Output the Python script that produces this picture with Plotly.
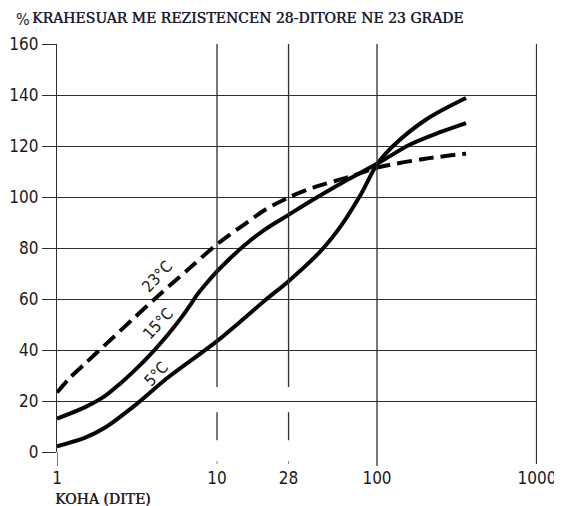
import plotly.graph_objects as go

# ---- data ----
days_23 = [1, 1.2, 1.5, 2, 3, 4, 5, 7, 10, 15, 20, 28, 40, 68, 100, 200, 360]
str_23 = [23.3, 29, 34.7, 42, 52.3, 59.5, 65, 73, 81.5, 89.5, 95, 99.8, 103.7, 108, 111.5, 115, 117]

days_15 = [1, 1.5, 2, 2.5, 3, 4, 5, 6, 6.8, 7.5, 8.6, 10, 12, 15, 20, 28, 40, 61, 100, 161, 250, 360]
str_15 = [13.1, 17.6, 22, 27, 31.5, 39.5, 46.5, 52.8, 57.6, 61.6, 66.2, 70.8, 75.8, 81.3, 87.3, 93, 99, 105.7, 113, 120.6, 125.5, 129]

days_5 = [1, 1.5, 2, 3, 5, 10, 20, 28, 44, 60, 80, 100, 126, 204, 360]
str_5 = [2.2, 5.6, 9.6, 17.8, 29.5, 43.5, 59.5, 67, 78.5, 89, 101.5, 112.8, 120, 130.5, 138.8]

x_tickvals = [1, 10, 28, 100, 1000]
x_ticktext = ["1", "10", "28", "100", "1000"]
y_tickvals = [0, 20, 40, 60, 80, 100, 120, 140, 160]

curve_labels = ["23°C", "15°C", "5°C"]

title_text = "KRAHESUAR ME REZISTENCEN 28-DITORE NE 23 GRADE"
xaxis_title = "KOHA (DITE)"

# ---- figure (page body has an 8px margin, so the figure is 8px smaller) ----
W, H = 554, 498
L, R, T, B = 49, 25, 36, 54
plot_h = H - T - B
plot_w = W - L - R

fig = go.Figure()
line_col = "#050505"
fig.add_trace(go.Scatter(x=days_23, y=str_23, mode="lines", line=dict(color=line_col, width=4, dash="15px,7px", shape="spline", smoothing=0.9), hoverinfo="skip", showlegend=False))
fig.add_trace(go.Scatter(x=days_15, y=str_15, mode="lines", line=dict(color=line_col, width=4, shape="spline", smoothing=0.9), hoverinfo="skip", showlegend=False))
fig.add_trace(go.Scatter(x=days_5, y=str_5, mode="lines", line=dict(color=line_col, width=4, shape="spline", smoothing=0.9), hoverinfo="skip", showlegend=False))

grid_col = "#2e2e2e"
narrow = "DejaVu Sans Condensed, Liberation Sans Narrow, sans-serif"
tick_font = dict(family=narrow, size=17, color="#1a1a1a")

shapes = []
for xv in [100]:
    shapes.append(dict(type="line", xref="x", yref="y", x0=xv, x1=xv, y0=0, y1=160, line=dict(color=grid_col, width=1.3)))
for xv in [10, 28]:
    shapes.append(dict(type="line", xref="x", yref="y", x0=xv, x1=xv, y0=25.5, y1=160, line=dict(color=grid_col, width=1.3)))
    shapes.append(dict(type="line", xref="x", yref="y", x0=xv, x1=xv, y0=4.6, y1=15.6, line=dict(color=grid_col, width=1.3)))
shapes.append(dict(type="line", xref="x", yref="paper", x0=1000, x1=1000, y0=-12 / plot_h, y1=1, line=dict(color=grid_col, width=2.2)))
for xv in [1, 100]:
    shapes.append(dict(type="line", xref="x", yref="paper", x0=xv, x1=xv, y0=-14 / plot_h, y1=0, line=dict(color=grid_col, width=1.3)))
for xv in [10, 28]:
    shapes.append(dict(type="line", xref="x", yref="paper", x0=xv, x1=xv, y0=-12 / plot_h, y1=-9 / plot_h, line=dict(color="#888", width=1)))

annotations = []
label_pos = [(0.625, 69.0), (0.631, 50.5), (0.616, 30.5)]
for txt, (lx, ly) in zip(curve_labels, label_pos):
    annotations.append(dict(text=txt, x=lx, y=ly, xref="x", yref="y", showarrow=False, textangle=-47,
                            font=dict(family=narrow, size=16, color="#1a1a1a"),
                            xanchor="center", yanchor="middle"))

def px_x(wx):
    return (wx - 8 - L) / plot_w

def px_y(wy):
    return (H - B - (wy - 8)) / plot_h

annotations.append(dict(text="%", x=px_x(14), y=px_y(19), xref="paper", yref="paper", showarrow=False,
                        xanchor="left", yanchor="middle",
                        font=dict(family=narrow, size=16, color="#222")))
annotations.append(dict(text=title_text, x=px_x(30), y=px_y(18), xref="paper", yref="paper", showarrow=False,
                        xanchor="left", yanchor="middle",
                        font=dict(family="DejaVu Serif, serif", size=14, color="#1c1f33", shadow="0.5px 0px 0px #1c1f33")))
annotations.append(dict(text=xaxis_title, x=px_x(53), y=px_y(499), xref="paper", yref="paper", showarrow=False,
                        xanchor="left", yanchor="middle",
                        font=dict(family="DejaVu Serif, serif", size=14, color="#2a2020", shadow="0.5px 0px 0px #2a2020")))

fig.update_layout(
    width=W, height=H,
    margin=dict(l=L, r=R, t=T, b=B, autoexpand=False),
    paper_bgcolor="white", plot_bgcolor="white",
    xaxis=dict(type="log", range=[0, 3], tickvals=x_tickvals, ticktext=x_ticktext, showgrid=False,
               ticks="outside", ticklen=11, tickcolor="rgba(0,0,0,0)", tickfont=tick_font,
               showline=False, zeroline=False, fixedrange=True, automargin=False),
    yaxis=dict(range=[0, 160], tickvals=y_tickvals, showgrid=True, gridcolor=grid_col, gridwidth=1.3,
               ticks="outside", ticklen=14, tickcolor=grid_col, tickwidth=1.3, tickfont=tick_font,
               showline=True, linecolor=grid_col, linewidth=1.3, zeroline=False, fixedrange=True, automargin=False),
    shapes=shapes,
    annotations=annotations,
)

fig.write_html("out.html")
